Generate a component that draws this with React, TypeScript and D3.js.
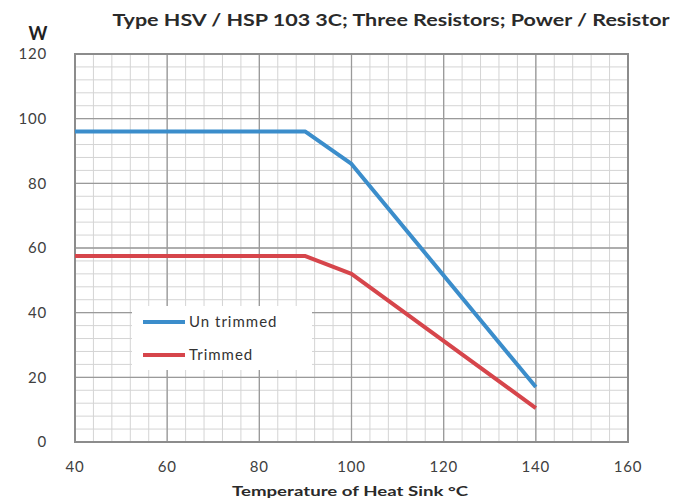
import React, { useRef, useEffect } from "react";
import * as d3 from "d3";

const temps = [40, 90, 100, 140];
const untrimmed = [96, 96, 86, 17];
const trimmed = [57.5, 57.5, 52, 10.5];
const xTicks = [40, 60, 80, 100, 120, 140, 160];
const yTicks = [0, 20, 40, 60, 80, 100, 120];
const seriesNames = ["Un trimmed", "Trimmed"];
const seriesColors = ["#3b8dcb", "#d6454b"];

export default function App() {
  const svgRef = useRef<SVGSVGElement>(null);

  useEffect(() => {
    const svg = d3.select(svgRef.current);
    svg.selectAll("*").remove();
    const font = "Lato, 'Open Sans', sans-serif";

    const x = d3.scaleLinear().domain([40, 160]).range([75, 628]);
    const y = d3.scaleLinear().domain([0, 120]).range([442, 54]);

    svg.append("rect").attr("width", 689).attr("height", 500).attr("fill", "#fff");

    const grid = svg.append("g");
    // minor grid every 4 units
    const minorX = d3.range(40, 161, 4);
    const minorY = d3.range(0, 121, 4);
    grid.selectAll("line.mx").data(minorX).enter().append("line")
      .attr("x1", d => x(d)).attr("x2", d => x(d))
      .attr("y1", y(0)).attr("y2", y(120))
      .attr("stroke", "#d4d4d4").attr("stroke-width", 1);
    grid.selectAll("line.my").data(minorY).enter().append("line")
      .attr("y1", d => y(d)).attr("y2", d => y(d))
      .attr("x1", x(40)).attr("x2", x(160))
      .attr("stroke", "#d4d4d4").attr("stroke-width", 1);
    grid.selectAll("line.Mx").data(xTicks).enter().append("line")
      .attr("x1", d => x(d)).attr("x2", d => x(d))
      .attr("y1", y(0)).attr("y2", y(120))
      .attr("stroke", "#9a9a9a").attr("stroke-width", 1.3);
    grid.selectAll("line.My").data(yTicks).enter().append("line")
      .attr("y1", d => y(d)).attr("y2", d => y(d))
      .attr("x1", x(40)).attr("x2", x(160))
      .attr("stroke", "#9a9a9a").attr("stroke-width", 1.3);

    svg.append("rect")
      .attr("x", x(40)).attr("y", y(120))
      .attr("width", x(160) - x(40)).attr("height", y(0) - y(120))
      .attr("fill", "none").attr("stroke", "#8c8c8c").attr("stroke-width", 2);

    const line = d3.line<number>().x((_, i) => x(temps[i])).y(d => y(d));
    [untrimmed, trimmed].forEach((s, i) => {
      svg.append("path").datum(s).attr("d", line)
        .attr("fill", "none").attr("stroke", seriesColors[i])
        .attr("stroke-width", 4).attr("stroke-linejoin", "round");
    });

    // axis labels
    svg.selectAll("text.yt").data(yTicks).enter().append("text")
      .attr("x", 47).attr("y", d => y(d)).attr("dy", "0.35em")
      .attr("text-anchor", "end").attr("font-family", font).attr("font-size", 15)
      .attr("letter-spacing", 0.8)
      .attr("fill", "#404040").text(d => d);
    svg.selectAll("text.xt").data(xTicks).enter().append("text")
      .attr("x", d => x(d)).attr("y", 472)
      .attr("text-anchor", "middle").attr("font-family", font).attr("font-size", 15)
      .attr("letter-spacing", 0.8)
      .attr("fill", "#404040").text(d => d);

    svg.append("text").attr("x", 38).attr("y", 40).attr("text-anchor", "middle")
      .attr("font-family", font).attr("font-weight", "bold").attr("font-size", 18)
      .attr("fill", "#222").text("W");
    svg.append("text").attr("x", 391).attr("y", 26).attr("text-anchor", "middle")
      .attr("font-family", font).attr("font-weight", "bold").attr("font-size", 17)
      .attr("fill", "#2a2a2a").attr("textLength", 557).attr("lengthAdjust", "spacingAndGlyphs")
      .text("Type HSV / HSP 103 3C; Three Resistors;  Power / Resistor");
    svg.append("text").attr("x", 350).attr("y", 496).attr("text-anchor", "middle")
      .attr("font-family", font).attr("font-weight", "bold").attr("font-size", 14)
      .attr("fill", "#2a2a2a").attr("textLength", 236).attr("lengthAdjust", "spacingAndGlyphs")
      .text("Temperature of Heat Sink °C");

    // legend
    const lg = svg.append("g");
    lg.append("rect").attr("x", 132).attr("y", 306).attr("width", 180).attr("height", 64).attr("fill", "#fff");
    seriesNames.forEach((n, i) => {
      const ly = 322 + i * 33;
      lg.append("line").attr("x1", 143).attr("x2", 185).attr("y1", ly).attr("y2", ly)
        .attr("stroke", seriesColors[i]).attr("stroke-width", 4);
      lg.append("text").attr("x", 189).attr("y", ly).attr("dy", "0.35em")
        .attr("font-family", font).attr("font-size", 15).attr("letter-spacing", 1)
        .attr("fill", "#333").text(n);
    });
  }, []);

  return (
    <svg ref={svgRef} width={689} height={500}
      style={{ position: "absolute", left: 0, top: 0, display: "block" }} />
  );
}
